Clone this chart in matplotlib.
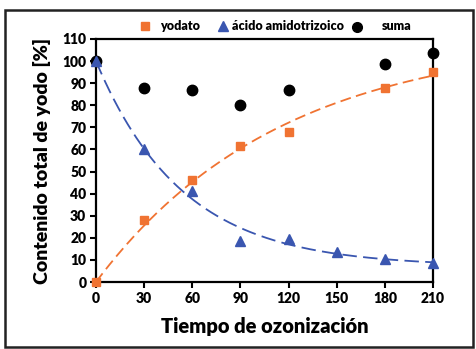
import numpy as np
import matplotlib
matplotlib.use("Agg")
import matplotlib.pyplot as plt
from matplotlib.lines import Line2D
from matplotlib.patches import Rectangle

# ---- data ----
t_yodato = [0, 30, 60, 90, 120, 180, 210]
yodato = [0, 28, 46, 61.5, 68, 88, 95]
t_acido = [0, 30, 60, 90, 120, 150, 180, 210]
acido = [100, 60, 41, 18.5, 19.5, 13.5, 10.5, 8.5]
t_suma = [0, 30, 60, 90, 120, 180, 210]
suma = [100, 88, 87, 80, 87, 98.5, 103.5]
xticks = [0, 30, 60, 90, 120, 150, 180, 210]
yticks = list(range(0, 111, 10))

ORANGE = "#F07332"
BLUE = "#3A56B0"
FONT = ["Lato", "DejaVu Sans"]
WEIGHT = "heavy"
plt.rcParams["font.family"] = FONT
plt.rcParams["font.weight"] = WEIGHT

# ---- least-squares fits of the trend curves (from the data) ----
def fit_rise(t, y):
    t = np.asarray(t, float); y = np.asarray(y, float)
    best = None
    for k in np.linspace(0.001, 0.05, 2000):
        g = 1 - np.exp(-k * t)
        A = (g @ y) / (g @ g)
        err = np.sum((A * g - y) ** 2)
        if best is None or err < best[0]:
            best = (err, A, k)
    return best[1], best[2]

def fit_decay(t, y):
    t = np.asarray(t, float); y = np.asarray(y, float)
    best = None
    for k in np.linspace(0.001, 0.06, 2000):
        e = np.exp(-k * t)
        g = 1 - e
        r = y - y[0] * e
        C = (g @ r) / (g @ g)
        err = np.sum((C * g + y[0] * e - y) ** 2)
        if best is None or err < best[0]:
            best = (err, C, k)
    return best[1], best[2], y[0]

A, k1 = fit_rise(t_yodato, yodato)
C, k2, y0 = fit_decay(t_acido, acido)
tt = np.linspace(0, 210, 300)
rise = A * (1 - np.exp(-k1 * tt))
decay = C + (y0 - C) * np.exp(-k2 * tt)

W, H = 476, 349
fig = plt.figure(figsize=(W / 100, H / 100), dpi=100)
ax = fig.add_axes([96 / W, 1 - 282 / H, (433 - 96) / W, (282 - 39) / H])

ax.plot(tt, rise, color=ORANGE, lw=1.3, dashes=(6, 3), zorder=2)
ax.plot(tt, decay, color=BLUE, lw=1.3, dashes=(8, 3.5), zorder=2)
ax.plot(t_suma, suma, "o", color="black", ms=7.5, ls="none", zorder=3, clip_on=False)
ax.plot(t_yodato, yodato, "s", color=ORANGE, ms=6, ls="none", zorder=4, clip_on=False)
ax.plot(t_acido, acido, "^", color=BLUE, ms=7.5, ls="none", zorder=5, clip_on=False)

ax.set_xlim(0, 210)
ax.set_ylim(0, 110)
ax.set_xticks(xticks)
ax.set_yticks(yticks)
ax.tick_params(direction="out", length=4, width=1.5, labelsize=10, pad=3)
for lab in ax.get_xticklabels() + ax.get_yticklabels():
    lab.set_fontweight(WEIGHT)
for s in ax.spines.values():
    s.set_linewidth(1.6)

ax.set_xlabel("Tiempo de ozonización", fontsize=14.5, fontweight=WEIGHT, labelpad=9)
ax.set_ylabel("Contenido total de yodo [%]", fontsize=14, fontweight=WEIGHT, labelpad=8)

# ---- legend above the axes ----
def fx(px): return px / W
def fy(py): return 1 - py / H
ly = 26
fig.add_artist(Line2D([fx(145)], [fy(ly)], marker="s", color=ORANGE, ms=5.5, ls="none"))
fig.text(fx(160), fy(ly), "yodato", fontsize=9, fontweight=WEIGHT, va="center", ha="left")
fig.add_artist(Line2D([fx(223)], [fy(ly)], marker="^", color=BLUE, ms=6.5, ls="none"))
fig.text(fx(232), fy(ly), "ácido amidotrizoico", fontsize=9, fontweight=WEIGHT, va="center", ha="left")
fig.add_artist(Line2D([fx(357)], [fy(ly + 1)], marker="o", color="black", ms=7, ls="none"))
fig.text(fx(382), fy(ly), "suma", fontsize=9, fontweight=WEIGHT, va="center", ha="left")

# ---- outer frame ----
fig.add_artist(Rectangle((fx(5), fy(347)), fx(473) - fx(5), fy(10) - fy(347),
                         fill=False, lw=1.8, edgecolor="#222222", transform=fig.transFigure))

fig.savefig("out.png", dpi=100)
